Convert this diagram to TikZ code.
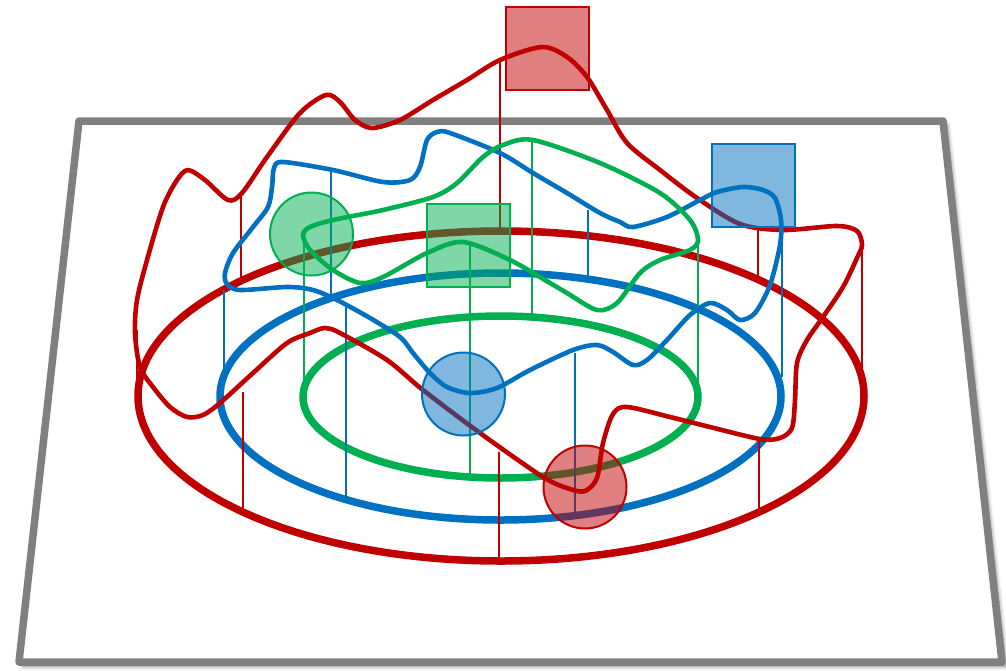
\documentclass[tikz,border=0pt]{standalone}
\usetikzlibrary{shadows.blur}
\definecolor{myred}{HTML}{C00000}
\definecolor{myblue}{HTML}{0070C0}
\definecolor{mygreen}{HTML}{00B050}
\definecolor{planegray}{HTML}{808080}
\begin{document}
\begin{tikzpicture}[x=1pt,y=-1pt,
  ring/.style={line width=7.5pt},
  loopline/.style={line width=4.6pt, line join=round},
  post/.style={line width=2pt},
  box/.style={rectangle, draw, line width=2pt, minimum width=83pt, minimum height=83pt, inner sep=0pt, fill opacity=0.5},
  ball/.style={circle, draw, line width=2pt, minimum size=83pt, inner sep=0pt, fill opacity=0.5},
]
\useasboundingbox (0,0) rectangle (1006,670);
% plane
\draw[planegray, line width=7.5pt, line join=round, fill=white,
  blur shadow={shadow xshift=4pt, shadow yshift=-4pt, shadow opacity=55, shadow blur radius=4pt}]
  (79,121) -- (943,121) -- (1002,662) -- (19,662) -- cycle;
% rings
\draw[myred, ring] (501,396) ellipse [x radius=363, y radius=165];
\draw[myblue, ring] (500.5,396.5) ellipse [x radius=280.5, y radius=123.5];
\draw[mygreen, ring] (500.5,397) ellipse [x radius=197.5, y radius=81];
% posts
\draw[myred, post] (241,197) -- (241,277);
\draw[myred, post] (500,60) -- (500,231);
\draw[myred, post] (758,229) -- (758,276);
\draw[myred, post] (862,245) -- (862,372);
\draw[myred, post] (137,330) -- (137,378);
\draw[myred, post] (243,392) -- (243,511);
\draw[myred, post] (499,452) -- (499,560);
\draw[myred, post] (759,437) -- (759,510);
\draw[myblue, post] (331,172) -- (331,297);
\draw[myblue, post] (588,210) -- (588,277);
\draw[myblue, post] (782,228) -- (782,377);
\draw[myblue, post] (224,290) -- (224,375);
\draw[myblue, post] (346,303) -- (346,497);
\draw[myblue, post] (575,353) -- (575,514);
\draw[mygreen, post] (304,240) -- (304,385);
\draw[mygreen, post] (532,142) -- (532,317);
\draw[mygreen, post] (470,246) -- (470,477);
\draw[mygreen, post] (698,245) -- (698,385);
% loops
\draw[myred, loopline] plot[smooth cycle, tension=0.5] coordinates {
 (188,170) (205,180) (228,200) (242,193) (267,157) (300,113) (326,95) (340,102) (355,120) (372,128)
 (400,120) (433,100) (467,80) (500,60) (542,47) (567,57) (587,77) (607,110) (627,143) (660,170)
 (697,198) (740,224) (783,230) (837,226) (857,231) (862,245) (857,258) (843,287) (823,317) (807,340)
 (797,363) (795,400) (792,428) (780,438) (760,439) (710,427) (670,417) (627,407) (613,414) (603,443)
 (597,478) (585,491) (570,489) (543,477) (480,433) (423,390) (387,360) (340,333) (325,328) (310,333)
 (287,343) (253,373) (220,403) (203,415) (187,417) (170,407) (153,387) (140,367) (135,333) (137,300)
 (147,260) (163,207) (177,180)};
\draw[myblue, loopline] plot[smooth cycle, tension=0.5] coordinates {
 (225,273) (227,284) (240,290) (287,287) (313,290) (337,300) (370,318) (400,337) (413,353) (430,373)
 (447,387) (470,393) (497,388) (530,370) (573,350) (597,345) (613,352) (633,365) (647,360) (667,340)
 (690,315) (710,303) (727,310) (740,320) (755,313) (770,285) (780,245) (781,220) (775,198) (763,190)
 (743,187) (717,192) (700,200) (667,217) (633,227) (620,222) (600,213) (567,193) (533,173) (500,153)
 (450,133) (437,132) (427,140) (420,167) (410,180) (383,182) (333,170) (283,162) (274,168) (272,187)
 (268,207) (253,227) (233,253)};
\draw[mygreen, loopline] plot[smooth cycle, tension=0.5] coordinates {
 (303,235) (310,227) (333,220) (383,210) (433,197) (457,183) (483,157) (503,145) (533,140) (600,163)
 (660,193) (690,220) (698,240) (690,250) (660,260) (640,273) (617,303) (597,310) (567,293) (550,283)
 (510,260) (463,242) (427,253) (383,277) (360,283) (333,270) (310,250)};
% boxes and balls
\node[box, draw=myred, fill=myred] (redbox) at (547.5,48) {};
\node[box, draw=myblue, fill=myblue] (bluebox) at (753.5,185.5) {};
\node[box, draw=mygreen, fill=mygreen] (greenbox) at (468,245) {};
\node[ball, draw=mygreen, fill=mygreen] (greenball) at (311.5,234) {};
\node[ball, draw=myblue, fill=myblue] (blueball) at (463.5,394) {};
\node[ball, draw=myred, fill=myred] (redball) at (585,487) {};
\end{tikzpicture}
\end{document}
